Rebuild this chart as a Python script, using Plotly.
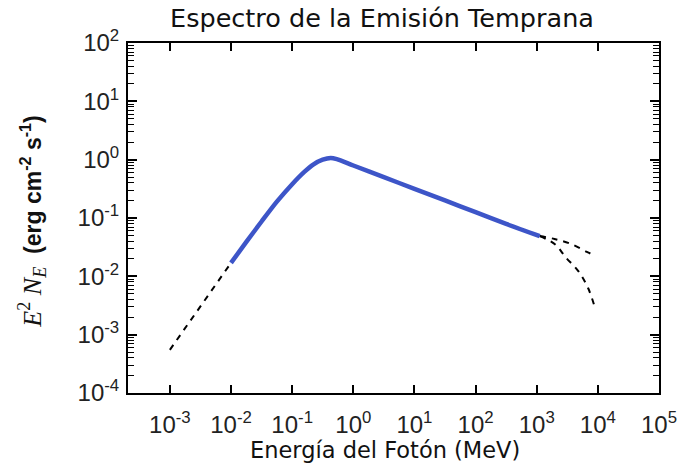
import plotly.graph_objects as go

# --- data ---
low_x = [0.001, 0.01]
low_y = [0.00055, 0.017]

blue_x = [0.01, 0.0178, 0.0316, 0.0562, 0.1, 0.158, 0.224, 0.316, 0.427, 0.537, 1.0, 3.16, 10.0, 31.6, 100.0, 316.0, 1122.0]
blue_y = [0.0170, 0.0389, 0.0871, 0.1905, 0.380, 0.617, 0.832, 1.0, 1.072, 1.023, 0.794, 0.501, 0.316, 0.200, 0.126, 0.0794, 0.049]

up_x = [1122.0, 1950.0, 3550.0, 6600.0, 7950.0]
up_y = [0.049, 0.0437, 0.0363, 0.0263, 0.024]

down_x = [1122.0, 2040.0, 2950.0, 4790.0, 6920.0, 8910.0]
down_y = [0.049, 0.0347, 0.0214, 0.0123, 0.0063, 0.00295]

x_exps = [-3, -2, -1, 0, 1, 2, 3, 4, 5]
y_exps = [-4, -3, -2, -1, 0, 1, 2]

def lab(e):
    s = "-" + str(-e) if e < 0 else str(e)
    return "10<sup>" + s + "</sup>"

fig = go.Figure()
dash_line = dict(color="black", width=2, dash="6px,6px")
fig.add_trace(go.Scatter(x=low_x, y=low_y, mode="lines", line=dash_line))
fig.add_trace(go.Scatter(x=up_x, y=up_y, mode="lines", line=dict(dash_line, shape="spline")))
fig.add_trace(go.Scatter(x=down_x, y=down_y, mode="lines", line=dict(dash_line, shape="spline")))
fig.add_trace(go.Scatter(x=blue_x, y=blue_y, mode="lines",
                         line=dict(color="#3d55c8", width=4.5, shape="spline", smoothing=0.8)))

tickfont = dict(family="Liberation Sans, Arial, sans-serif", size=24, color="#222")
fig.update_xaxes(type="log", range=[-3.685, 5.0],
                 tickvals=[10.0 ** e for e in x_exps], ticktext=[lab(e) for e in x_exps],
                 ticks="inside", ticklen=8, tickwidth=1.5, tickcolor="black",
                 showline=True, linecolor="black", linewidth=2, mirror="ticks",
                 showgrid=False, zeroline=False, tickfont=tickfont, ticklabelstandoff=9)
fig.update_yaxes(type="log", range=[-4, 2],
                 tickvals=[10.0 ** e for e in y_exps], ticktext=[lab(e) for e in y_exps],
                 ticks="inside", ticklen=9, tickwidth=1.5, tickcolor="black",
                 showline=True, linecolor="black", linewidth=2, mirror="ticks",
                 showgrid=False, zeroline=False, tickfont=tickfont, ticklabelstandoff=2,
                 minor=dict(ticks="inside", ticklen=6, tickwidth=1.2, tickcolor="black",
                            dtick="D1", showgrid=False))

fig.update_layout(
    width=689, height=470,
    margin=dict(l=128, r=21, t=43, b=77),
    paper_bgcolor="white", plot_bgcolor="white",
    showlegend=False,
    title=dict(text="Espectro de la Emisión Temprana",
               font=dict(family="DejaVu Sans", size=25.5, color="#111"),
               x=382 / 689, xanchor="center", y=1 - 18 / 470, yanchor="middle", yref="container"),
    annotations=[
        dict(text="Energía del Fotón (MeV)", xref="paper", yref="paper",
             x=(389 - 128) / 540, y=(393 - 450) / 350, xanchor="center", yanchor="middle",
             showarrow=False, font=dict(family="DejaVu Sans", size=22.5, color="#111")),
        dict(text="<span style=\"font-family:'Liberation Serif';font-size:26px\"><i>E</i><sup>2</sup> <i>N<sub>E</sub></i></span>"
                  "&nbsp;&nbsp;<b>(erg cm<sup>-2</sup> s<sup>-1</sup>)</b>",
             xref="paper", yref="paper", x=(30 - 128) / 540, y=(393 - 222) / 350,
             xanchor="center", yanchor="middle", textangle=-90, showarrow=False,
             font=dict(family="Liberation Sans, Arial, sans-serif", size=23, color="#111")),
    ],
)

fig.write_html("out.html")
